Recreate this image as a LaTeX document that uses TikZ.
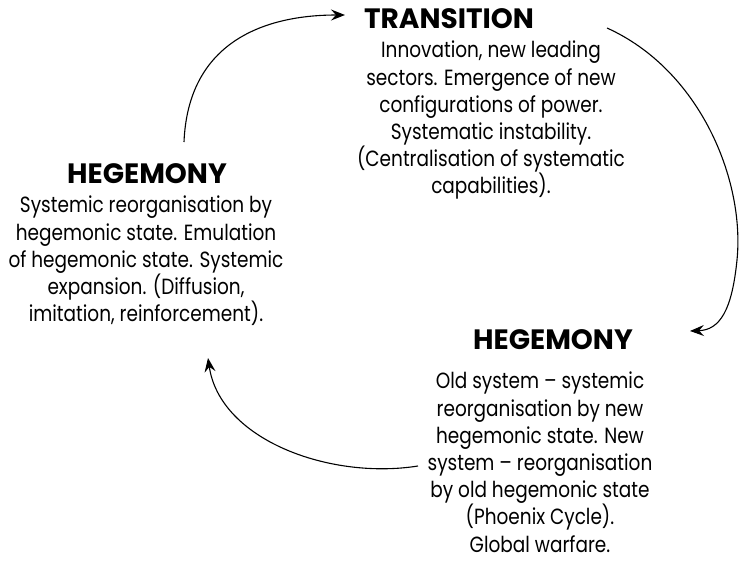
\documentclass[tikz,border=0pt]{standalone}
\usepackage{fontspec}
\setmainfont{Poppins}[FakeStretch=0.84]
\newfontfamily\headfont{Poppins}
\usetikzlibrary{arrows.meta}
\begin{document}
\begin{tikzpicture}[x=1pt,y=-1pt,inner sep=0,
		head/.style={font=\headfont\bfseries\fontsize{28}{28}\selectfont},
		body/.style={align=center,font=\fontsize{22}{27.2}\selectfont},
		arr/.style={line width=1.1pt,-{Stealth[length=14pt,width=11pt,inset=5pt]}}]
		\useasboundingbox (0,0) rectangle (740,573);
		% the three phases of the cycle
		\node[head,anchor=base] (T) at (449,28){TRANSITION};
		\node[body,anchor=north] (T1) at (491,41){Innovation, new leading\\sectors. Emergence of new\\configurations of power.\\Systematic instability.\\(Centralisation of systematic\\capabilities).};
		\node[head,anchor=base] (H1) at (147,183){HEGEMONY};
		\node[body,anchor=north] (H1t) at (146,196){Systemic reorganisation by\\hegemonic state. Emulation\\of hegemonic state. Systemic\\expansion. (Diffusion,\\imitation, reinforcement).};
		\node[head,anchor=base] (H2) at (553,349){HEGEMONY};
		\node[body,anchor=north] (H2t) at (540,372){Old system -- systemic\\reorganisation by new\\hegemonic state. New\\system -- reorganisation\\by old hegemonic state\\(Phoenix Cycle).\\Global warfare.};
		% arrows run clockwise
		\coordinate (a1) at (184,142);
		\coordinate (b1) at (345,15);
		\coordinate (a2) at (607,28);
		\coordinate (m2) at (737,260);
		\coordinate (b2) at (690,331);
		\coordinate (a3) at (418,466);
		\coordinate (b3) at (208,358);
		\draw[arr] (a1) .. controls (188,45) and (260,15) .. (b1);
		\draw[arr] (a2) .. controls (700,70) and (745,180) .. (m2) .. controls (732,310) and (720,330) .. (b2);
		\draw[arr] (a3) .. controls (330,480) and (220,440) .. (b3);
	\end{tikzpicture}
\end{document}
